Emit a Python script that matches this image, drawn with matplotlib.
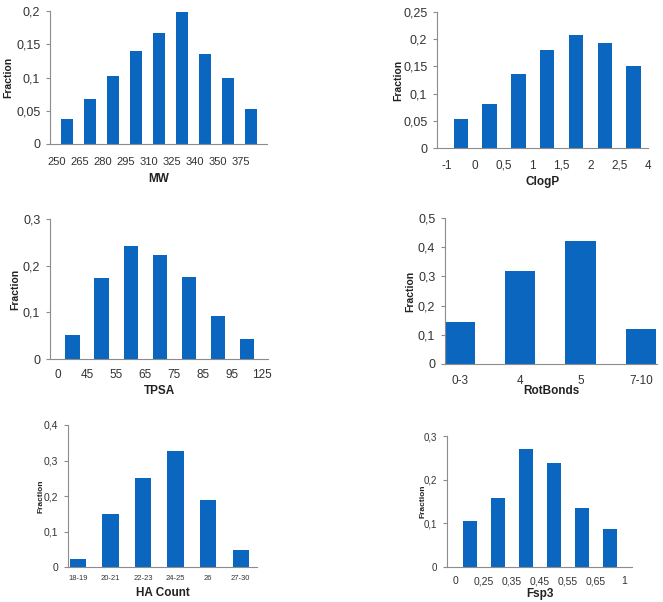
import matplotlib.pyplot as plt
import numpy as np

plt.rcParams['font.family'] = ['Liberation Sans', 'DejaVu Sans']

BLUE = '#0b66c0'
GREY = '#8c8c8c'

# data
mw_vals = [0.038, 0.068, 0.103, 0.140, 0.167, 0.199, 0.135, 0.100, 0.053]
mw_labels = ['250', '265', '280', '295', '310', '325', '340', '350', '375']

clogp_vals = [0.053, 0.080, 0.136, 0.180, 0.207, 0.193, 0.150]
clogp_labels = ['-1', '0', '0,5', '1', '1,5', '2', '2,5', '4']

tpsa_vals = [0.052, 0.174, 0.242, 0.222, 0.176, 0.093, 0.043]
tpsa_labels = ['0', '45', '55', '65', '75', '85', '95', '125']

rot_vals = [0.143, 0.317, 0.420, 0.120]
rot_labels = ['0-3', '4', '5', '7-10']

ha_vals = [0.023, 0.148, 0.252, 0.328, 0.188, 0.049]
ha_labels = ['18-19', '20-21', '22-23', '24-25', '26', '27-30']

fsp3_vals = [0.105, 0.159, 0.271, 0.238, 0.136, 0.087]
fsp3_labels = ['0', '0,25', '0,35', '0,45', '0,55', '0,65', '1']

W, H = 663, 602
fig = plt.figure(figsize=(W / 100, H / 100), dpi=100)
PX = 0.72  # points per pixel


def panel(px, vals, labels, xlab, ymax, ystep, xlim, label_off, base, xlab_y, frac_x,
          yfs=9, xfs=8.5, lfs=8.5, fracfs=7.5):
    l, r, t, b = px
    ax = fig.add_axes([l / W, 1 - b / H, (r - l) / W, (b - t) / H])
    x = np.arange(len(vals))
    ax.bar(x, vals, width=0.5, color=BLUE)
    ax.set_xlim(*xlim)
    ax.set_ylim(0, ymax)
    yt = np.arange(0, ymax + ystep / 2, ystep)
    ax.set_yticks(yt)
    ax.set_yticklabels([('%g' % round(v, 3)).replace('.', ',') for v in yt], fontsize=yfs, color='#333333')
    ax.set_xticks(np.arange(len(labels)) + label_off)
    ax.set_xticklabels(labels, fontsize=xfs, color='#333333', va='baseline')
    ax.tick_params(axis='x', length=0, pad=(base - b) * PX)
    ax.tick_params(axis='y', length=3, color=GREY, width=0.8, pad=4)
    for s in ['top', 'right']:
        ax.spines[s].set_visible(False)
    for s in ['left', 'bottom']:
        ax.spines[s].set_color(GREY)
        ax.spines[s].set_linewidth(0.8)
    ax.set_ylabel('Fraction', fontsize=fracfs, fontweight='bold', color='#222222', va='center')
    ax.set_xlabel(xlab, fontsize=lfs, fontweight='bold', color='#222222', va='center')
    ax.yaxis.set_label_coords((frac_x - l) / (r - l), 0.5)
    ax.xaxis.set_label_coords(0.5, (b - xlab_y) / (b - t))
    return ax


panel((50, 267, 11, 144), mw_vals, mw_labels, 'MW', 0.2, 0.05, (-0.73, 8.7), -0.43, 165, 179, 8, xfs=8)
panel((437, 648, 12, 148), clogp_vals, clogp_labels, 'ClogP', 0.25, 0.05, (-0.83, 6.5), -0.5, 168.5, 182, 398)
panel((50, 268, 219, 359), tpsa_vals, tpsa_labels, 'TPSA', 0.3, 0.1, (-0.78, 6.72), -0.5, 378.5, 391, 15)
panel((445, 657, 218, 364), rot_vals, rot_labels, 'RotBonds', 0.5, 0.1, (-0.25, 3.27), 0.0, 383.5, 391, 410)
panel((68, 257, 425, 567), ha_vals, ha_labels, 'HA Count', 0.4, 0.1, (-0.3, 5.5), 0.0, 579.5, 593, 41,
      yfs=7.5, xfs=5.5, fracfs=6)
panel((447, 632, 436, 567), fsp3_vals, fsp3_labels, 'Fsp3', 0.3, 0.1, (-0.82, 5.79), -0.5, 584.5, 594, 423,
      yfs=7, xfs=7.5, fracfs=6)

fig.savefig('out.png', dpi=100)
